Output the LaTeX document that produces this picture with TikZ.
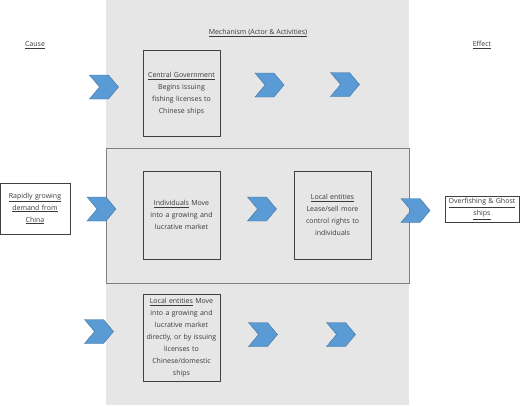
\documentclass[tikz,border=0pt]{standalone}
\usepackage{fontspec}
\setmainfont{Open Sans}
\usetikzlibrary{shapes.symbols}
\definecolor{panel}{HTML}{E7E6E6}
\definecolor{chevfill}{HTML}{5B9BD5}
\definecolor{chevline}{HTML}{41719C}
\definecolor{txt}{HTML}{3A3A3A}
\definecolor{boxline}{HTML}{404040}
\tikzset{
  chev/.style={shape=signal, signal to=east, signal from=west, signal pointer angle=100,
    fill=chevfill, draw=chevline, line width=0.4pt, minimum width=29pt, minimum height=24pt, inner sep=0pt},
  actbox/.style={draw=boxline, line width=1pt, fill=panel, minimum width=77pt, text width=74pt,
    align=center, inner sep=0pt, font=\fontsize{7}{12}\selectfont, text=txt},
  plainbox/.style={draw=boxline, line width=1pt, fill=white, align=center, inner sep=0pt,
    font=\fontsize{7}{12}\selectfont, text=txt},
  lbl/.style={font=\fontsize{7}{12}\selectfont, text=txt, inner sep=0pt}
}
\begin{document}
\begin{tikzpicture}[x=1pt,y=-1pt]
\useasboundingbox (0,0) rectangle (520,405);
\fill[white] (0,0) rectangle (520,405);
\fill[panel] (106,0) rectangle (409,405);
\draw[gray, line width=0.6pt] (106,148) rectangle (409,283);
% titles
\node[lbl] (cause) at (35,45) {\underline{Cause}};
\node[lbl] (mech) at (258,33) {\underline{Mechanism (Actor \& Activities)}};
\node[lbl] (effect) at (482,45) {\underline{Effect}};
% boxes
\node[actbox, minimum height=86pt] (cg) at (181.5,93.5) {\underline{Central Government}\\Begins issuing\\fishing licenses to\\Chinese ships};
\node[actbox, minimum height=88pt] (ind) at (181.5,215) {\underline{Individuals} Move\\into a growing and\\lucrative market};
\node[actbox, minimum height=88pt] (le) at (332.5,215) {\underline{Local entities}\\Lease/sell more\\control rights to\\individuals};
\node[actbox, minimum height=87pt] (le2) at (181.5,337.5) {\underline{Local entities} Move\\into a growing and\\lucrative market\\directly, or by issuing\\licenses to\\Chinese/domestic\\ships};
\node[plainbox, minimum width=70pt, minimum height=51pt, text width=66pt] (demand) at (35,208.5) {\underline{Rapidly growing}\\\underline{demand from}\\\underline{China}};
\node[plainbox, minimum width=74pt, minimum height=26pt, text width=74pt] (over) at (482,209) {\underline{Overfishing \& Ghost}\\\underline{ships}};
% chevrons
\node[chev] (c11) at (104,87) {};
\node[chev] (c12) at (269.5,85) {};
\node[chev] (c13) at (345,84.5) {};
\node[chev] (c21) at (101.5,209) {};
\node[chev] (c22) at (262,209) {};
\node[chev] (c23) at (415.5,210.5) {};
\node[chev] (c31) at (99,331.5) {};
\node[chev] (c32) at (263,334.5) {};
\node[chev] (c33) at (341,334.5) {};
\end{tikzpicture}
\end{document}
